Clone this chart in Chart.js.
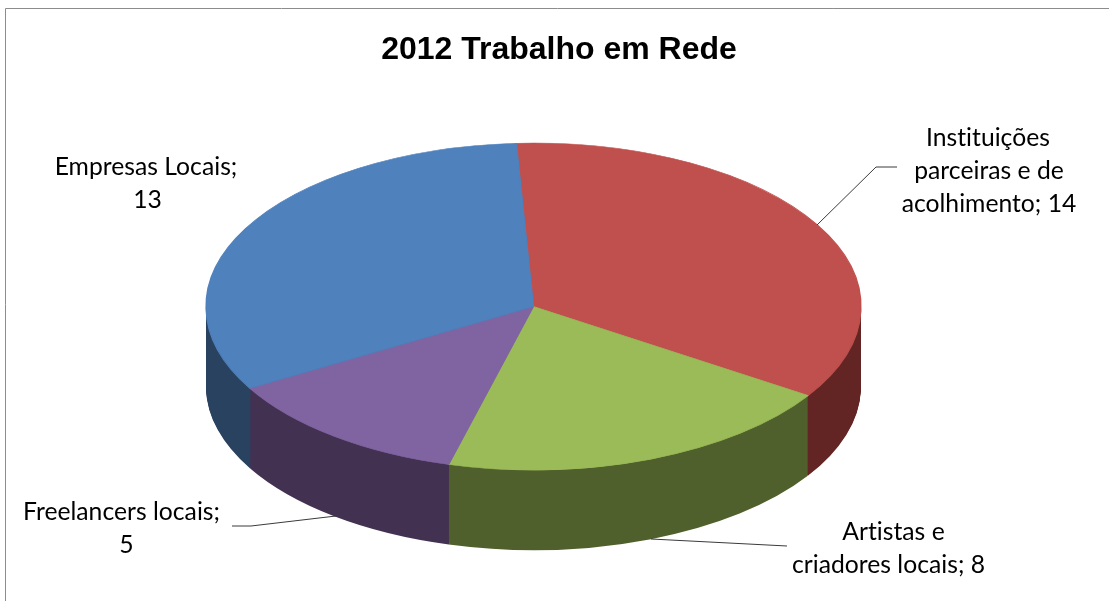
<!DOCTYPE html>
<html><head><meta charset="utf-8">
<script src="https://cdn.jsdelivr.net/npm/chart.js@4"></script>
<style>html,body{margin:0;padding:0;background:#fff}#w{position:relative;width:1109px;height:601px}canvas{background:#fff}</style>
</head><body><div id="w"><canvas id="c" width="1109" height="601"></canvas></div>
<script>
const chartTitle = "2012 Trabalho em Rede";
const categories = ["Instituições parceiras e de acolhimento","Artistas e criadores locais","Freelancers locais","Empresas Locais"];
const values = [14,8,5,13];
const topColors = ["#C0504D","#9BBB59","#8064A2","#4F81BD"];
const sideColors = ["#632523","#4F602C","#433152","#284260"];
const sideOrder = [1,2,0,3];
const labelLines = [["Instituições","parceiras e de","acolhimento; 14"],["Artistas e","criadores locais; 8"],["Freelancers locais;","5"],["Empresas Locais;","13"]];
const labelXs = [[988,989,989],[893.5,888.5],[121.5,126.5],[146,147.5]];
const labelYs = [138,532,512,167];
const leaders = [[[817,225],[876,167],[897,167]],[[651,539],[787,546]],[[232,526],[251,526],[336,516]],[]];
const pieCenter=[533.5,306.5], pieRx=327.5, pieRy=163.5, pieDepth=80;

const tilt3d = {
  id:'tilt3d',
  beforeDraw(chart){
    const c=chart.ctx;
    c.save();
    c.strokeStyle='#8C8C8C';c.lineWidth=1;c.beginPath();
    c.moveTo(5.5,601);c.lineTo(5.5,8.5);c.lineTo(1109,8.5);c.stroke();c.restore();
  },
  beforeDatasetDraw(chart){
    const c=chart.ctx, arcs=chart.getDatasetMeta(0).data, a0=arcs[0];
    const sx=pieRx/a0.outerRadius, sy=pieRy/a0.outerRadius;
    const place=(g,d)=>{g.translate(pieCenter[0],pieCenter[1]+d);g.scale(sx,sy);g.translate(-a0.x,-a0.y);};
    c.save();place(c,0);
    arcs.forEach(a=>a.draw(c));
    c.restore();
    sideOrder.forEach(i=>{
      const a=arcs[i], off=document.createElement('canvas');
      off.width=chart.width;off.height=chart.height;
      const g=off.getContext('2d'), o=a.options;
      a.options=Object.assign({},o,{backgroundColor:sideColors[i],borderColor:sideColors[i],borderWidth:0});
      for(let d=1;d<=pieDepth;d++){g.save();place(g,d);a.draw(g);g.restore();}
      a.options=o;
      g.globalCompositeOperation='source-in';
      g.fillStyle=sideColors[i];g.fillRect(0,0,off.width,off.height);
      c.save();c.globalCompositeOperation='destination-over';c.drawImage(off,0,0);c.restore();
    });
    return false;
  },
  afterDatasetsDraw(chart){
    const c=chart.ctx;
    c.save();
    c.strokeStyle='#3a3a3a';c.lineWidth=1;
    leaders.forEach(l=>{ if(!l.length)return; c.beginPath();l.forEach((p,i)=>i?c.lineTo(p[0],p[1]):c.moveTo(p[0],p[1]));c.stroke();});
    c.fillStyle='#000';c.font='24.7px Lato';c.textAlign='center';c.textBaseline='middle';
    c.letterSpacing='0.01px';
    labelLines.forEach((ls,i)=>ls.forEach((t,j)=>c.fillText(t,labelXs[i][j],labelYs[i]+j*33)));
    c.restore();
  }
};
new Chart(document.getElementById('c'),{
  type:'pie',
  data:{labels:categories,datasets:[{data:values,backgroundColor:topColors,borderColor:topColors,borderWidth:1}]},
  options:{
    responsive:false,animation:false,rotation:-3,
    layout:{padding:{left:9}},
    plugins:{legend:{display:false},tooltip:{enabled:false},
      title:{display:true,text:chartTitle,color:'#000',font:{family:'"Liberation Sans"',size:32,weight:'bold'},padding:{top:31,bottom:10}}}
  },
  plugins:[tilt3d]
});
</script></body></html>
